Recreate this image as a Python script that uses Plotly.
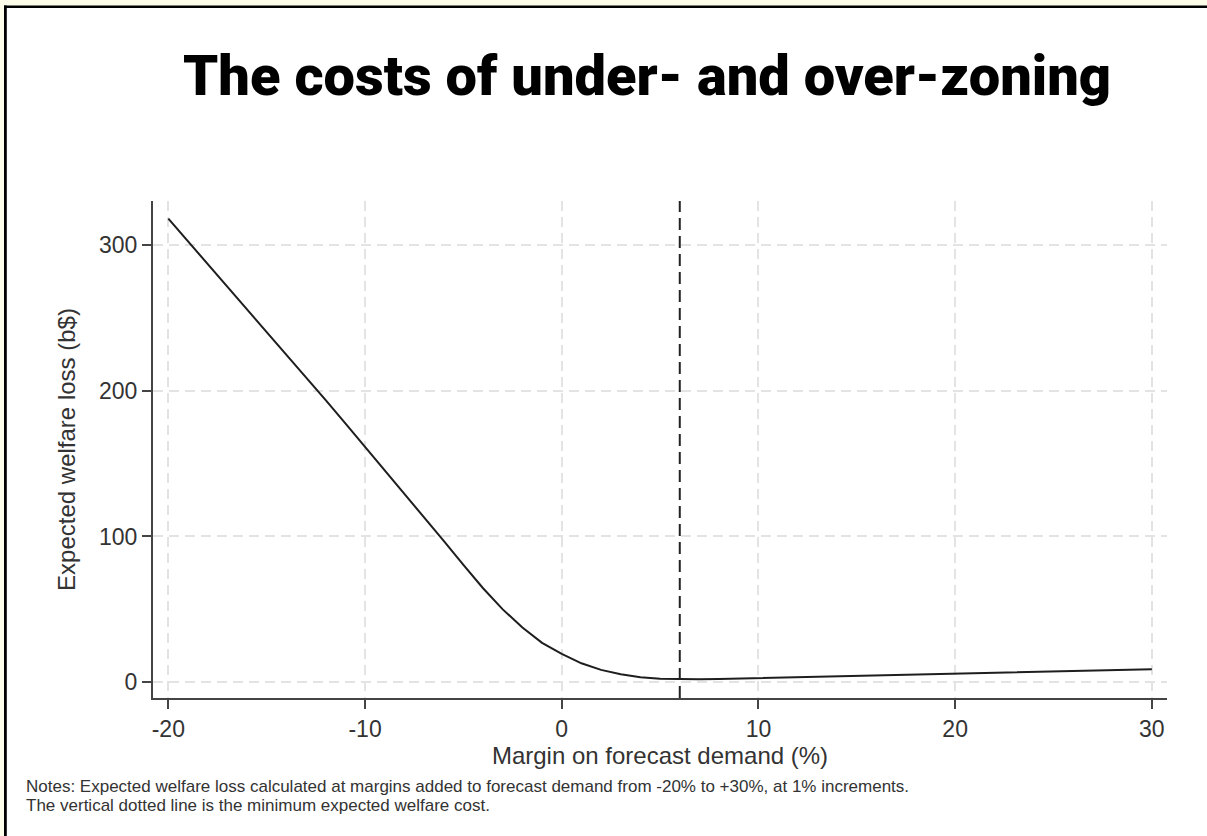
import plotly.graph_objects as go

# ---- data ----
margin_pct = [-20, -19, -18, -17, -16, -15, -14, -13, -12, -11,
              -10, -9, -8, -7, -6, -5, -4, -3, -2, -1,
              0, 1, 2, 3, 4, 5, 6, 7, 8, 9, 10,
              11, 12, 13, 14, 15, 16, 17, 18, 19, 20,
              21, 22, 23, 24, 25, 26, 27, 28, 29, 30]
welfare_loss = [318, 302.5, 287, 271.5, 256, 240.5, 225, 209, 193.5, 177.5,
                161.5, 145, 129, 113, 97, 80.5, 64.5, 50, 37.5, 27,
                19.5, 13, 8.5, 5.5, 3.5, 2.4, 2.0, 2.1, 2.3, 2.6, 2.9,
                3.2, 3.5, 3.8, 4.1, 4.4, 4.7, 5.0, 5.3, 5.6, 6.0,
                6.3, 6.6, 6.9, 7.2, 7.5, 7.8, 8.1, 8.4, 8.7, 9.0]
min_margin = 6
x_ticks = [-20, -10, 0, 10, 20, 30]
y_ticks = [0, 100, 200, 300]

title_text = "The costs of under- and over-zoning"
x_title = "Margin on forecast demand (%)"
y_title = "Expected welfare loss (b$)"
notes_lines = [
    "Notes: Expected welfare loss calculated at margins added to forecast demand from -20% to +30%, at 1% increments.",
    "The vertical dotted line is the minimum expected welfare cost.",
]

# ---- layout geometry (pixels) ----
W, H = 1207, 836
ML, MR, MT, MB = 153, 40, 201, 138
PW, PH = W - ML - MR, H - MT - MB


def px_x(px):
    return (px - ML) / PW


def px_y(py):
    return (H - MB - py) / PH


fig = go.Figure()
fig.add_trace(go.Scatter(
    x=margin_pct, y=welfare_loss, mode="lines",
    line=dict(color="#1e1e1e", width=2), hoverinfo="x+y", showlegend=False,
))

tick_font = dict(family="Liberation Sans, Arial, sans-serif", size=23, color="#333333")
title_font = dict(family="Liberation Sans, Arial, sans-serif", size=24, color="#333333")

fig.update_layout(
    width=W, height=H, autosize=False,
    margin=dict(l=ML, r=MR, t=MT, b=MB, pad=0),
    paper_bgcolor="white", plot_bgcolor="white",
    title=dict(text=title_text, x=647 / W, xref="container", xanchor="center",
               y=1 - 75 / H, yref="container", yanchor="middle",
               font=dict(family="Roboto, sans-serif", size=56, color="black", weight=900)),
    xaxis=dict(
        range=[-20.78, 30.77], tickvals=x_ticks, ticktext=[str(v) for v in x_ticks],
        showline=True, linecolor="#444444", linewidth=2,
        ticks="outside", ticklen=9, tickwidth=2, tickcolor="#444444",
        showgrid=True, gridcolor="#e3e3e3", gridwidth=1.5, griddash="10px,6px",
        zeroline=False, tickfont=tick_font,
        title=dict(text=x_title, font=title_font, standoff=5),
    ),
    yaxis=dict(
        range=[-10.8, 330.1], tickvals=y_ticks, ticktext=[str(v) for v in y_ticks],
        showline=True, linecolor="#444444", linewidth=2,
        ticks="outside", ticklen=9, tickwidth=2, tickcolor="#444444",
        showgrid=True, gridcolor="#e3e3e3", gridwidth=1.5, griddash="10px,6px",
        zeroline=False, tickfont=tick_font,
        title=dict(text=y_title, font=title_font, standoff=17),
    ),
)

# vertical dashed line at the minimum
fig.add_shape(type="line", xref="x", yref="paper", x0=min_margin, x1=min_margin,
              y0=0, y1=1, line=dict(color="#222222", width=2, dash="12px,6px"))

# frame: cream strip + black rule on top and left
fig.add_shape(type="rect", xref="paper", yref="paper", x0=px_x(0), x1=px_x(W),
              y0=px_y(0), y1=px_y(5.5), fillcolor="#fdfdea", line=dict(width=0), layer="above")
fig.add_shape(type="rect", xref="paper", yref="paper", x0=px_x(0), x1=px_x(4),
              y0=px_y(0), y1=px_y(H), fillcolor="#fdfdea", line=dict(width=0), layer="above")
fig.add_shape(type="rect", xref="paper", yref="paper", x0=px_x(4), x1=px_x(W),
              y0=px_y(5.5), y1=px_y(8), fillcolor="black", line=dict(width=0), layer="above")
fig.add_shape(type="rect", xref="paper", yref="paper", x0=px_x(4), x1=px_x(6.8),
              y0=px_y(5.5), y1=px_y(H), fillcolor="black", line=dict(width=0), layer="above")

# notes
note_font = dict(family="Liberation Sans, Arial, sans-serif", size=17, color="#333333")
for i, line in enumerate(notes_lines):
    fig.add_annotation(text=line, xref="paper", yref="paper", x=px_x(24), y=px_y(786 + 19 * i),
                       xanchor="left", yanchor="middle", align="left", showarrow=False,
                       font=note_font)

fig.write_html("out.html")
